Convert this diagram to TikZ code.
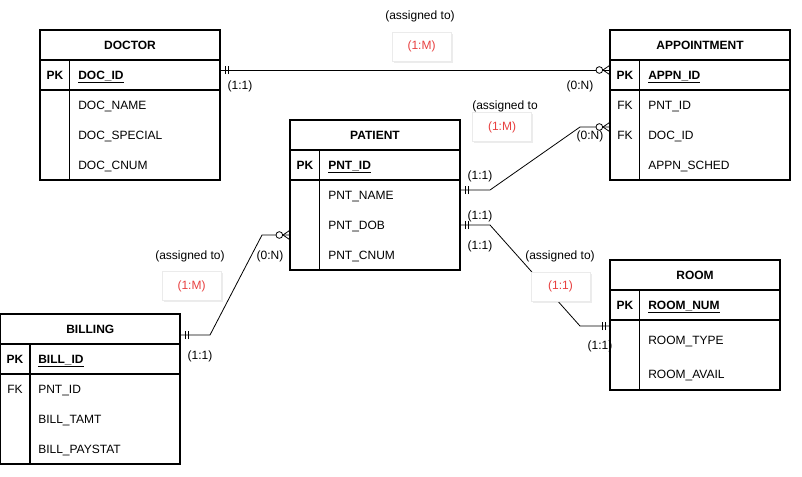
\documentclass[tikz,border=0pt]{standalone}
\usepackage{fontspec}
\setmainfont{Liberation Sans}
\usetikzlibrary{calc,decorations.markings,shadows}
\definecolor{cardred}{RGB}{232,64,64}

\begin{document}
\begin{tikzpicture}[x=0.75pt,y=-0.75pt,
   font=\fontsize{9}{11}\selectfont,
   tablebox/.style={rectangle,draw,line width=0.8pt,inner sep=0pt,
    minimum height=22.5pt},
   keytext/.style={inner sep=0pt,text height=6.5pt,text depth=0pt},
   fieldtext/.style={anchor=west,inner sep=0pt,text height=6.5pt,text depth=0pt},
   lbl/.style={inner sep=0pt,text height=6.5pt,text depth=0pt},
   card/.style={rectangle,fill=white,draw=black!8,text=cardred,
    minimum width=44.25pt,minimum height=21.75pt,
    drop shadow={opacity=0.15,shadow xshift=1.2pt,shadow yshift=-1.2pt}},
   link/.style={line width=0.6pt},
   onemark/.style={postaction={decorate,decoration={markings,
    mark=at position 3.75pt with {\draw[line width=0.7pt] (0,-3pt) -- (0,3pt);},
    mark=at position 6pt with {\draw[line width=0.7pt] (0,-3pt) -- (0,3pt);}}}},
   oneendmark/.style={postaction={decorate,decoration={markings,
    mark=at position -3.75pt with {\draw[line width=0.7pt] (0,-3pt) -- (0,3pt);},
    mark=at position -6pt with {\draw[line width=0.7pt] (0,-3pt) -- (0,3pt);}}}},
   manymark/.style={postaction={decorate,decoration={markings,
    mark=at position -0.01pt with {
     \draw[line width=0.6pt] (-5.25pt,0) -- (0,3.6pt) (-5.25pt,0) -- (0,-3.6pt);
     \draw[line width=0.6pt,fill=white] (-8pt,0) circle (2.5pt);}}}}
    ]

    \useasboundingbox (0,0) rectangle (802,476);

    % DOCTOR:
    \node[tablebox,minimum width=135pt] at (130,45) (doctor) {\bfseries DOCTOR};
    \node[tablebox,minimum width=135pt] at (130,75) (doctorpk) {};
    \node[tablebox,minimum width=135pt,minimum height=67.5pt] at (130,135) (doctorbody) {};
    \draw[line width=0.8pt] ([xshift=22.5pt]doctorpk.north west) -- ([xshift=22.5pt]doctorbody.south west);
    \node[keytext] at (55,75) (dockey) {\bfseries PK};
    \node[fieldtext] at (78,75) (docid) {\bfseries\underline{DOC\_ID}};
    \node[fieldtext] at (78,105) (docname) {DOC\_NAME};
    \node[fieldtext] at (78,135) (docspecial) {DOC\_SPECIAL};
    \node[fieldtext] at (78,165) (doccnum) {DOC\_CNUM};

    % APPOINTMENT:
    \node[tablebox,minimum width=135pt] at (700,45) (appn) {\bfseries APPOINTMENT};
    \node[tablebox,minimum width=135pt] at (700,75) (appnpk) {};
    \node[tablebox,minimum width=135pt,minimum height=67.5pt] at (700,135) (appnbody) {};
    \draw[line width=0.8pt] ([xshift=22.5pt]appnpk.north west) -- ([xshift=22.5pt]appnbody.south west);
    \node[keytext] at (625,75) (appnkey) {\bfseries PK};
    \node[keytext] at (625,105) (appnfk1) {FK};
    \node[keytext] at (625,135) (appnfk2) {FK};
    \node[fieldtext] at (648,75) (appnid) {\bfseries\underline{APPN\_ID}};
    \node[fieldtext] at (648,105) (appnpnt) {PNT\_ID};
    \node[fieldtext] at (648,135) (appndoc) {DOC\_ID};
    \node[fieldtext] at (648,165) (appnsched) {APPN\_SCHED};

    % PATIENT:
    \node[tablebox,minimum width=127.5pt] at (375,135) (patient) {\bfseries PATIENT};
    \node[tablebox,minimum width=127.5pt] at (375,165) (patientpk) {};
    \node[tablebox,minimum width=127.5pt,minimum height=67.5pt] at (375,225) (patientbody) {};
    \draw[line width=0.8pt] ([xshift=22.5pt]patientpk.north west) -- ([xshift=22.5pt]patientbody.south west);
    \node[keytext] at (305,165) (pntkey) {\bfseries PK};
    \node[fieldtext] at (328,165) (pntid) {\bfseries\underline{PNT\_ID}};
    \node[fieldtext] at (328,195) (pntname) {PNT\_NAME};
    \node[fieldtext] at (328,225) (pntdob) {PNT\_DOB};
    \node[fieldtext] at (328,255) (pntcnum) {PNT\_CNUM};

    % BILLING:
    \node[tablebox,minimum width=134.6pt] at (90.25,329) (billing) {\bfseries BILLING};
    \node[tablebox,minimum width=134.6pt] at (90.25,359) (billingpk) {};
    \node[tablebox,minimum width=134.6pt,minimum height=67.5pt] at (90.25,419) (billingbody) {};
    \draw[line width=0.8pt] ([xshift=22.5pt]billingpk.north west) -- ([xshift=22.5pt]billingbody.south west);
    \node[keytext] at (15,359) (billkey) {\bfseries PK};
    \node[keytext] at (15,389) (billfk) {FK};
    \node[fieldtext] at (38,359) (billid) {\bfseries\underline{BILL\_ID}};
    \node[fieldtext] at (38,389) (billpnt) {PNT\_ID};
    \node[fieldtext] at (38,419) (billtamt) {BILL\_TAMT};
    \node[fieldtext] at (38,449) (billpaystat) {BILL\_PAYSTAT};

    % ROOM:
    \node[tablebox,minimum width=127.5pt] at (695,275) (room) {\bfseries ROOM};
    \node[tablebox,minimum width=127.5pt] at (695,305) (roompk) {};
    \node[tablebox,minimum width=127.5pt,minimum height=52.5pt] at (695,355) (roombody) {};
    \draw[line width=0.8pt] ([xshift=22.5pt]roompk.north west) -- ([xshift=22.5pt]roombody.south west);
    \node[keytext] at (625,305) (roomkey) {\bfseries PK};
    \node[fieldtext] at (648,305) (roomnum) {\bfseries\underline{ROOM\_NUM}};
    \node[fieldtext] at (648,340) (roomtype) {ROOM\_TYPE};
    \node[fieldtext] at (648,374) (roomavail) {ROOM\_AVAIL};

    % connection points:
    \coordinate (docC) at (220,70);
    \coordinate (appnC1) at (610,70);
    \coordinate (pntC1) at (460,190);
    \coordinate (appnC2) at (610,127);
    \coordinate (pntC2) at (460,225);
    \coordinate (roomC) at (610,326);
    \coordinate (billC) at (180,335);
    \coordinate (pntC3) at (290,235);

    % relationships
    \draw[link,onemark,manymark] (docC) -- (appnC1); % doctor -> appointment
    \draw[link,onemark,manymark] (pntC1) -- ++(30,0) -- ($(appnC2)+(-30,0)$) -- (appnC2);
                     % patient -> appointment
    \draw[link,onemark,oneendmark] (pntC2) -- ++(30,0) -- ($(roomC)+(-30,0)$) -- (roomC);
                     % patient -> room
    \draw[link,onemark,manymark] (billC) -- ++(30,0) -- ($(pntC3)+(-28,0)$) -- (pntC3);
                     % billing -> patient

    % cardinalities
    \node[lbl] at (240,85) (docone) {(1:1)};
    \node[lbl] at (580,85) (appnmany1) {(0:N)};
    \node[lbl] at (420,15) (assign1) {(assigned to)};
    \node[card] at (421.5,46.5) (card1) {(1:M)};

    \node[lbl] at (480,175) (pntone1) {(1:1)};
    \node[lbl] at (590,135) (appnmany2) {(0:N)};
    \node[lbl] at (505,105) (assign2) {(assigned to};
    \node[card] at (502,127) (card2) {(1:M)};

    \node[lbl] at (200,355) (billone) {(1:1)};
    \node[lbl] at (270,255) (pntmany) {(0:N)};
    \node[lbl] at (190,255) (assign3) {(assigned to)};
    \node[card] at (191.5,286) (card3) {(1:M)};

    \node[lbl] at (480,215) (pntone2) {(1:1)};
    \node[lbl] at (480,245) (pntone3) {(1:1)};
    \node[lbl] at (560,255) (assign4) {(assigned to)};
    \node[card] at (560.5,286.5) (card4) {(1:1)};
    \node[lbl] at (600,345) (roomone) {(1:1)};

\end{tikzpicture}
\end{document}
